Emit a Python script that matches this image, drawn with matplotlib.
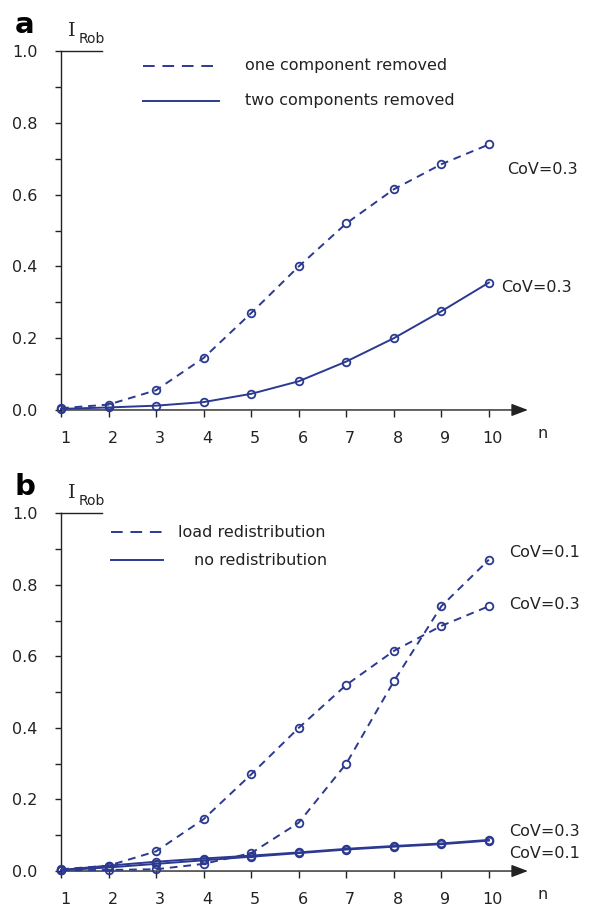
import numpy as np
import matplotlib.pyplot as plt
import matplotlib.transforms as mtransforms

# data
n = [1, 2, 3, 4, 5, 6, 7, 8, 9, 10]

# panel a
one_removed = [0.005, 0.015, 0.055, 0.145, 0.27, 0.40, 0.52, 0.615, 0.685, 0.74]
two_removed = [0.003, 0.007, 0.012, 0.022, 0.045, 0.08, 0.135, 0.20, 0.275, 0.355]

# panel b
redist_cov01 = [0.002, 0.003, 0.005, 0.02, 0.05, 0.135, 0.30, 0.53, 0.74, 0.87]
redist_cov03 = [0.005, 0.015, 0.055, 0.145, 0.27, 0.40, 0.52, 0.615, 0.685, 0.74]
noredist_cov03 = [0.003, 0.015, 0.026, 0.035, 0.043, 0.052, 0.062, 0.07, 0.077, 0.087]
noredist_cov01 = [0.002, 0.01, 0.02, 0.03, 0.04, 0.05, 0.06, 0.068, 0.075, 0.085]

BLUE = "#2b3990"
AXC = "#222222"
DASH = (0, (4, 3))


def setup_axes(fig, ax, label):
    ax.set_xlim(1, 10.82)
    ax.set_ylim(0, 1.0)
    for s in ["top", "right", "bottom"]:
        ax.spines[s].set_visible(False)
    ax.spines["left"].set_color(AXC)
    ax.spines["left"].set_linewidth(1.0)
    ax.set_yticks(np.arange(0, 1.01, 0.2))
    ax.set_yticklabels(["0.0", "0.2", "0.4", "0.6", "0.8", "1.0"])
    ax.set_yticks(np.arange(0.1, 1.0, 0.2), minor=True)
    ax.tick_params(axis="y", which="both", length=4, width=1.0, color=AXC,
                   labelsize=11.5, labelcolor=AXC, pad=13)
    ax.set_xticks(n)
    ax.tick_params(axis="x", length=5, width=1.0, color=AXC,
                   labelsize=11.5, labelcolor=AXC, pad=10)
    # tick labels sit a little right of the ticks in the original
    shift = mtransforms.ScaledTranslation(4 / 100, 0, fig.dpi_scale_trans)
    for lab in ax.get_xticklabels():
        lab.set_transform(lab.get_transform() + shift)
    # x axis with arrow
    ax.annotate("", xy=(1.0, 0), xytext=(0, 0), xycoords="axes fraction",
                arrowprops=dict(arrowstyle="-|>,head_length=1.0,head_width=0.38",
                                color=AXC, lw=1.0, shrinkA=0, shrinkB=0))
    # short top line at 1.0
    ax.axhline(1.0, xmin=0, xmax=0.088, color=AXC, lw=1.0, clip_on=False)
    ax.text(1.02, -0.045, "n", transform=ax.transAxes, fontsize=11.5, color=AXC,
            ha="left", va="top")
    ax.text(-0.1, 1.035, label, transform=ax.transAxes, fontsize=21,
            fontweight="bold", ha="left", va="bottom")
    ax.text(0.015, 1.03, "I", transform=ax.transAxes, fontsize=14,
            family="DejaVu Serif", ha="left", va="bottom", color=AXC)
    ax.text(0.037, 1.015, "Rob", transform=ax.transAxes, fontsize=10,
            ha="left", va="bottom", color=AXC)


def series(ax, y, dashed):
    ls = DASH if dashed else "-"
    ax.plot(n, y, color=BLUE, linestyle=ls, linewidth=1.4, marker="o",
            markersize=5.5, markerfacecolor="none", markeredgewidth=1.3,
            clip_on=False, zorder=3)


fig = plt.figure(figsize=(5.91, 9.06), dpi=100)

ax1 = fig.add_axes([0.1032, 0.5475, 0.790, 0.396])
setup_axes(fig, ax1, "a")
series(ax1, one_removed, True)
series(ax1, two_removed, False)
ax1.text(10.39, 0.67, "CoV=0.3", fontsize=11.5, color=AXC, va="center")
ax1.text(10.26, 0.34, "CoV=0.3", fontsize=11.5, color=AXC, va="center")
# legend
ax1.plot([0.176, 0.335], [0.96, 0.96], transform=ax1.transAxes, color=BLUE,
         lw=1.4, linestyle=(0, (6, 4)))
ax1.plot([0.176, 0.338], [0.862, 0.862], transform=ax1.transAxes, color=BLUE,
         lw=1.4)
ax1.text(0.394, 0.96, "one component removed", transform=ax1.transAxes,
         fontsize=11.5, color=AXC, va="center")
ax1.text(0.394, 0.862, "two components removed", transform=ax1.transAxes,
         fontsize=11.5, color=AXC, va="center")

ax2 = fig.add_axes([0.1032, 0.0386, 0.790, 0.395])
setup_axes(fig, ax2, "b")
series(ax2, redist_cov01, True)
series(ax2, redist_cov03, True)
series(ax2, noredist_cov03, False)
series(ax2, noredist_cov01, False)
ax2.text(10.43, 0.89, "CoV=0.1", fontsize=11.5, color=AXC, va="center")
ax2.text(10.43, 0.745, "CoV=0.3", fontsize=11.5, color=AXC, va="center")
ax2.text(10.43, 0.11, "CoV=0.3", fontsize=11.5, color=AXC, va="center")
ax2.text(10.43, 0.05, "CoV=0.1", fontsize=11.5, color=AXC, va="center")
ax2.plot([0.107, 0.218], [0.947, 0.947], transform=ax2.transAxes, color=BLUE,
         lw=1.4, linestyle=(0, (6, 4)))
ax2.plot([0.107, 0.218], [0.869, 0.869], transform=ax2.transAxes, color=BLUE,
         lw=1.4)
ax2.text(0.25, 0.947, "load redistribution", transform=ax2.transAxes,
         fontsize=11.5, color=AXC, va="center")
ax2.text(0.285, 0.869, "no redistribution", transform=ax2.transAxes,
         fontsize=11.5, color=AXC, va="center")

fig.savefig("out.png", dpi=100)
